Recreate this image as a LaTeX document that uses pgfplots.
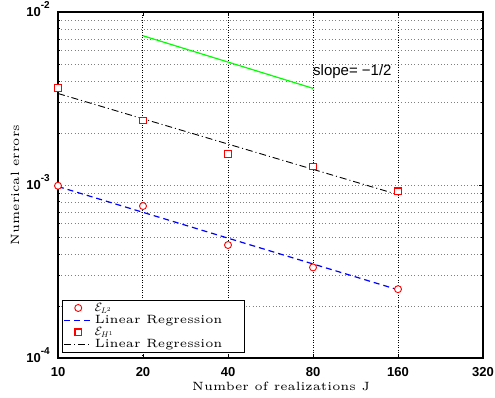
\documentclass[border=0pt]{standalone}
\usepackage{fontspec}
\usepackage{pgfplots}
\pgfplotsset{compat=1.18}
\newfontfamily\helv{Liberation Sans}
\newfontfamily\lmfive{lmroman5-regular}[Extension=.otf]
\definecolor{mgreen}{rgb}{0,1,0}
\definecolor{mred}{rgb}{1,0,0}
\newcommand{\ylab}[1]{\textbf{10}\raisebox{8pt}{\fontsize{10}{10}\selectfont\bfseries -#1}\hspace*{8pt}}
\begin{document}
\begin{tikzpicture}
\useasboundingbox (-58pt,-40pt) rectangle (437pt,358pt);
\begin{axis}[
  scale only axis, width=425pt, height=346pt,
  xmode=log, ymode=log, log basis x=2,
  xmin=10, xmax=320, ymin=1e-4, ymax=1e-2,
  xtick={10,20,40,80,160,320},
  xticklabels={10,20,40,80,160,320},
  ytick={1e-4,1e-3,1e-2},
  yticklabels={\ylab{4},\ylab{3},\ylab{2}},
  minor ytick={2e-4,3e-4,4e-4,5e-4,6e-4,7e-4,8e-4,9e-4,2e-3,3e-3,4e-3,5e-3,6e-3,7e-3,8e-3,9e-3},
  tick align=inside, major tick length=4pt, minor tick length=2pt,
  tick style={black, line width=0.6pt},
  axis line style={line width=1.2pt},
  xmajorgrids, ymajorgrids, yminorgrids,
  major x grid style={black, line width=1pt, dash pattern=on 1pt off 1.5pt},
  major y grid style={gray, line width=0.5pt, dash pattern=on 0.8pt off 2.5pt},
  minor y grid style={gray, line width=0.5pt, dash pattern=on 0.8pt off 2.5pt},
  tick label style={font=\fontsize{13}{13}\selectfont\helv\bfseries, inner sep=0pt},
  xticklabel style={anchor=north, yshift=-9.5pt},
  yticklabel style={anchor=base east, yshift=-4.5pt},
  xlabel={Number of realizations J},
  ylabel={Numerical errors},
  xlabel style={font=\fontsize{12}{12}\selectfont\lmfive, at={(axis description cs:0.525,0)}, anchor=north, inner sep=0pt, yshift=-24pt},
  ylabel style={font=\fontsize{12}{12}\selectfont\lmfive, at={(axis description cs:-0.101,0.5)}, anchor=center, inner sep=0pt},
  legend style={at={(axis description cs:0.01,0.015)}, anchor=south west, draw=black, line width=0.8pt, fill=white,
    font=\fontsize{12}{12}\selectfont\lmfive, inner sep=1pt, row sep=-1.5pt, cells={anchor=west}},
  legend cell align=left,
  legend image code/.code={\draw[mark repeat=2, mark phase=2] plot coordinates {(0pt,0pt) (14pt,0pt) (28pt,0pt)};},
]
\addplot[only marks, mark=*, mark size=3.5pt, draw=mred, line width=0.9pt, mark options={solid, draw=mred, fill=white}] coordinates {(10,9.9e-4) (20,7.56e-4) (40,4.5e-4) (80,3.34e-4) (160,2.5e-4)};
\addlegendentry{$\mathcal{E}_{L^2}$}
\addplot[blue, line width=1.2pt, dash pattern=on 6pt off 4pt] coordinates {(10,9.8e-4) (160,2.48e-4)};
\addlegendentry{Linear Regression}
\addplot[only marks, mark=square*, mark size=3.3pt, draw=mred, line width=1.2pt, mark options={solid, draw=mred, fill=white}] coordinates {(10,3.64e-3) (20,2.36e-3) (40,1.51e-3) (80,1.28e-3) (160,9.2e-4)};
\addlegendentry{$\mathcal{E}_{H^1}$}
\addplot[black, line width=0.9pt, dash pattern=on 7pt off 3pt on 1pt off 3pt] coordinates {(10,3.38e-3) (160,8.8e-4)};
\addlegendentry{Linear Regression\hspace*{19pt}}
\addplot[mgreen, line width=1.2pt, forget plot] coordinates {(20,7.29e-3) (80,3.62e-3)};
\node[anchor=west, inner sep=0pt, font=\fontsize{15}{15}\selectfont\helv] at (axis cs:80,4.5e-3) {slope= \textminus 1/2};
\end{axis}
\end{tikzpicture}
\end{document}
